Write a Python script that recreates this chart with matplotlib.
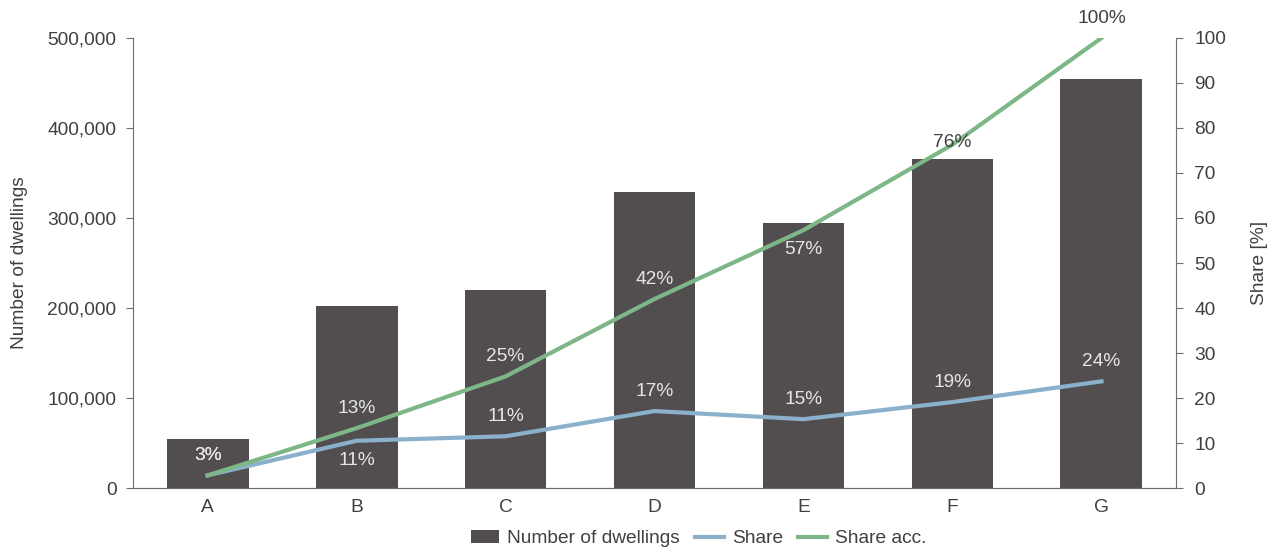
import numpy as np
import matplotlib.pyplot as plt
from matplotlib.ticker import FuncFormatter

plt.rcParams['font.family'] = ['Liberation Sans', 'DejaVu Sans']

categories = ['A', 'B', 'C', 'D', 'E', 'F', 'G']
dwellings = [54000, 202000, 220000, 329000, 294000, 365500, 454000]
share = [2.8, 10.5, 11.5, 17.1, 15.3, 19.1, 23.7]
share_acc = [2.8, 13.3, 24.8, 42.0, 57.3, 76.3, 100.0]
share_labels = ['3%', '11%', '11%', '17%', '15%', '19%', '24%']
acc_labels = ['3%', '13%', '25%', '42%', '57%', '76%', '100%']

bar_col = '#524E4F'
share_col = '#8AB0CB'
acc_col = '#7DB787'
txt_col = '#404040'
light = '#E6E6E6'
spine_col = '#6E6E6E'
fs = 13.8

fig = plt.figure(figsize=(12.72, 5.52), dpi=100)
ax = fig.add_axes([0.1046, 0.1159, 0.8199, 0.8153])
ax2 = ax.twinx()

x = np.arange(len(categories))
ax.bar(x, dwellings, width=0.55, color=bar_col, label='Number of dwellings', zorder=2)
ax.set_xlim(-0.5, 6.5)
ax.set_ylim(0, 500000)
ax.set_yticks(np.arange(0, 500001, 100000))
ax.yaxis.set_major_formatter(FuncFormatter(lambda v, p: f'{int(v):,}'))
ax.set_xticks(x)
ax.set_xticklabels(categories)
ax.set_ylabel('Number of dwellings', fontsize=fs, color=txt_col, labelpad=14)

ax2.plot(x, share, color=share_col, lw=3, label='Share', zorder=3)
ax2.plot(x, share_acc, color=acc_col, lw=3, label='Share acc.', zorder=3)
ax2.set_ylim(0, 100)
ax2.set_yticks(np.arange(0, 101, 10))
ax2.set_ylabel('Share [%]', fontsize=fs, color=txt_col, labelpad=18)

for a in (ax, ax2):
    a.spines['top'].set_visible(False)
    a.spines['left'].set_color(spine_col)
    a.spines['right'].set_color(spine_col)
    a.spines['bottom'].set_color(spine_col)
    a.tick_params(colors=txt_col, labelsize=fs, length=5, color=spine_col)
ax.spines['right'].set_visible(False)
ax2.spines['left'].set_visible(False)
ax.tick_params(axis='x', length=0, pad=8)
ax.tick_params(axis='y', pad=7)
ax2.tick_params(axis='y', pad=8)

# data label offsets in points (positive = above the point)
share_off = [14, -14, 14, 14, 14, 14, 14]
acc_off = [14, 14, 14, 14, -14, 1.5, 14]
share_cols = [light] * 7
acc_cols = [light, light, light, light, light, txt_col, txt_col]

for i in range(len(x)):
    ax2.annotate(share_labels[i], (x[i], share[i]), xytext=(0, share_off[i]),
                 textcoords='offset points', ha='center', va='center',
                 fontsize=fs, color=share_cols[i], zorder=5)
    ax2.annotate(acc_labels[i], (x[i], share_acc[i]), xytext=(0, acc_off[i]),
                 textcoords='offset points', ha='center', va='center',
                 fontsize=fs, color=acc_cols[i], zorder=5)

h1, l1 = ax.get_legend_handles_labels()
h2, l2 = ax2.get_legend_handles_labels()
fig.legend(h1 + h2, l1 + l2, loc='center', bbox_to_anchor=(0.549, 0.024), ncol=3,
           frameon=False, fontsize=fs, labelcolor=txt_col, handlelength=1.5,
           handletextpad=0.4, columnspacing=0.8)

plt.savefig('out.png', dpi=100)
